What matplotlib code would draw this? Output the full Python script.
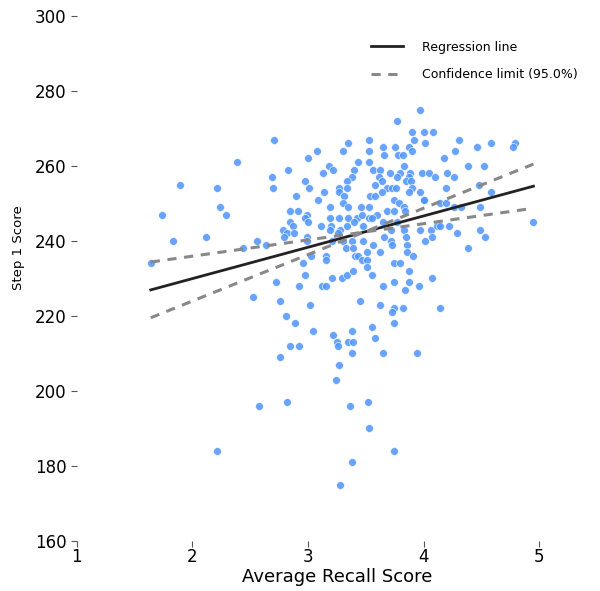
"""
Step 1 score vs average recall score, with regression line
"""
import numpy as np
import matplotlib
matplotlib.use('Agg')
import matplotlib.pyplot as plt

# -----------------------------------
# values
recall_left = [2.71, 2.39, 2.83, 2.69, 1.89, 2.21, 2.70, 2.24, 2.29, 1.74, 2.84, 1.83, 2.12, 2.44,
               2.56, 2.64, 2.78, 2.82, 2.79, 1.64, 2.72, 2.52, 2.76, 2.81, 2.84, 2.76, 2.82, 2.58, 2.21]
step1_left = [267, 261, 259, 257, 255, 254, 254, 249, 247, 247, 248, 240, 241, 238,
              240, 239, 243, 242, 241, 234, 229, 225, 224, 220, 212, 209, 197, 196, 184]

recall_mid = [3.35, 3.08, 3.30, 3.53, 3.53, 3.00, 3.43, 3.53, 3.18, 3.22, 3.40, 3.13, 3.38, 3.34,
              2.97, 3.01, 3.27, 3.34, 3.14, 3.27, 3.31, 2.90, 3.09, 3.54,
              3.19, 3.30, 3.35, 3.46, 3.53, 2.91, 2.99, 2.97, 3.00, 2.84, 3.19, 3.27, 3.35, 3.42,
              3.47, 3.53, 2.87, 3.11, 3.20, 3.19, 3.28, 3.34, 3.40, 3.48, 3.26, 2.99, 2.88, 3.21,
              3.30, 3.38, 3.48, 2.99, 3.33, 3.39, 2.96, 3.03, 3.16, 3.16, 3.41, 3.43, 3.47, 3.51,
              3.51, 3.51, 2.97, 2.92, 3.12, 3.16, 3.21, 3.29, 3.34, 3.39, 3.45, 3.02,
              2.89, 3.04, 3.22, 3.38, 2.92, 3.25, 3.26, 3.35, 3.39, 3.38, 3.27, 3.24, 3.36, 3.52,
              3.53, 3.38, 3.28]
step1_mid = [266, 264, 264, 267, 264, 262, 261, 261, 260, 259, 259, 258, 257, 256,
             256, 254, 254, 254, 253, 253, 252, 252, 251, 252,
             249, 250, 249, 249, 249, 248, 247, 246, 245, 245, 246, 246, 246, 246,
             247, 246, 244, 244, 244, 243, 243, 244, 245, 244, 242, 241, 242, 240,
             240, 240, 240, 240, 238, 238, 234, 236, 236, 235, 236, 236, 235, 235,
             237, 233, 231, 228, 228, 228, 230, 230, 231, 232, 224, 223,
             218, 216, 215, 216, 212, 213, 212, 213, 213, 210, 207, 203, 196, 197,
             190, 181, 175]

recall_right = [3.97, 3.77, 3.90, 4.00, 4.08, 3.92, 4.01, 3.65, 3.75, 3.87, 3.90, 3.66, 3.78, 3.82,
                3.83, 3.56, 3.62, 3.71, 3.80, 3.88, 3.99, 4.05, 3.61, 3.77, 3.87, 4.10, 3.64, 3.85,
                3.89, 3.58, 3.68, 3.73, 3.76, 3.90, 3.58, 3.64, 3.87, 3.97, 4.00,
                3.74, 3.79, 3.83, 4.00, 3.68, 3.74, 3.60, 3.84, 3.55, 3.65, 3.77, 3.72, 3.83, 3.97,
                4.06, 4.12, 3.66, 3.85, 4.01, 4.07, 3.72, 3.73, 3.56, 3.86, 3.62, 3.86, 3.91, 3.74,
                3.80, 3.55, 3.87, 4.07, 3.74, 3.87, 3.65, 3.96, 3.84, 3.62, 3.74, 3.82,
                3.73, 3.74, 3.55, 3.58, 3.65, 3.94, 3.74,
                4.31, 4.27, 4.46, 4.58, 4.79, 4.77, 4.18, 4.38, 4.52, 4.20, 4.26, 4.19, 4.48, 4.58,
                4.14, 4.19, 4.26, 4.32, 4.49, 4.14, 4.22, 4.95, 4.49, 4.53, 4.29, 4.38, 4.14]
step1_right = [275, 272, 269, 269, 269, 267, 266, 265, 265, 265, 264, 263, 263, 263,
               260, 259, 259, 258, 258, 258, 258, 258, 257, 257, 257, 257, 256, 256,
               256, 255, 254, 254, 254, 254, 252, 253, 253, 253, 251,
               251, 250, 249, 251, 248, 248, 247, 248, 246, 245, 245, 243, 243, 243,
               243, 244, 241, 241, 240, 241, 240, 239, 239, 239, 237, 237, 236, 234,
               234, 231, 232, 230, 229, 229, 228, 228, 227, 223, 222, 222,
               221, 218, 217, 214, 210, 210, 184,
               267, 264, 265, 266, 266, 265, 262, 260, 260, 258, 257, 254, 255, 253,
               250, 250, 249, 249, 249, 244, 244, 245, 243, 241, 242, 238, 222]

CONF = 95.0
# -----------------------------------

x = np.array(recall_left + recall_mid + recall_right)
y = np.array(step1_left + step1_mid + step1_right)
n = len(x)

# // least squares fit
slope, icpt = np.polyfit(x, y, 1)
res = y - (slope * x + icpt)
se = np.sqrt(np.sum(res ** 2) / (n - 2) / np.sum((x - x.mean()) ** 2))
t_val = 1.97  # ~t(0.975, n-2)
xx = np.array([x.min(), x.max()])

fig, ax = plt.subplots(figsize=(6, 5.91), dpi=100)
fig.subplots_adjust(left=0.128, right=0.995, top=0.973, bottom=0.085)

ax.scatter(x, y, s=32, color='#4d94ff', alpha=0.85, edgecolors='white', linewidths=0.5, zorder=2)
ax.plot(xx, slope * xx + icpt, color='#222222', lw=2, label='Regression line', zorder=3)
for k, s_ in enumerate([slope + t_val * se, slope - t_val * se]):
    ax.plot(xx, y.mean() + s_ * (xx - x.mean()), color='#888888', lw=2.2, ls=(0, (3, 2.5)),
            label='Confidence limit ({}%)'.format(CONF) if k == 0 else None, zorder=3)

ax.set_xlim(1, 5.5)
ax.set_ylim(160, 300)
ax.set_xticks([1, 2, 3, 4, 5])
ax.set_yticks(np.arange(160, 301, 20))
for sp in ax.spines.values():
    sp.set_visible(False)
ax.tick_params(axis='both', direction='out', length=4, width=0.8, color='#555555', labelsize=12)
ax.tick_params(axis='x', pad=1)
ax.set_xlabel('Average Recall Score', fontsize=13, labelpad=2)
ax.set_ylabel('Step 1 Score', fontsize=9.5)
ax.yaxis.set_label_coords(-0.1, 0.558)

ax.legend(loc='upper left', bbox_to_anchor=(0.543, 0.974), frameon=False, fontsize=9,
          handlelength=2.6, handletextpad=1.5, labelspacing=1.15)

fig.savefig('out.png', dpi=100)
